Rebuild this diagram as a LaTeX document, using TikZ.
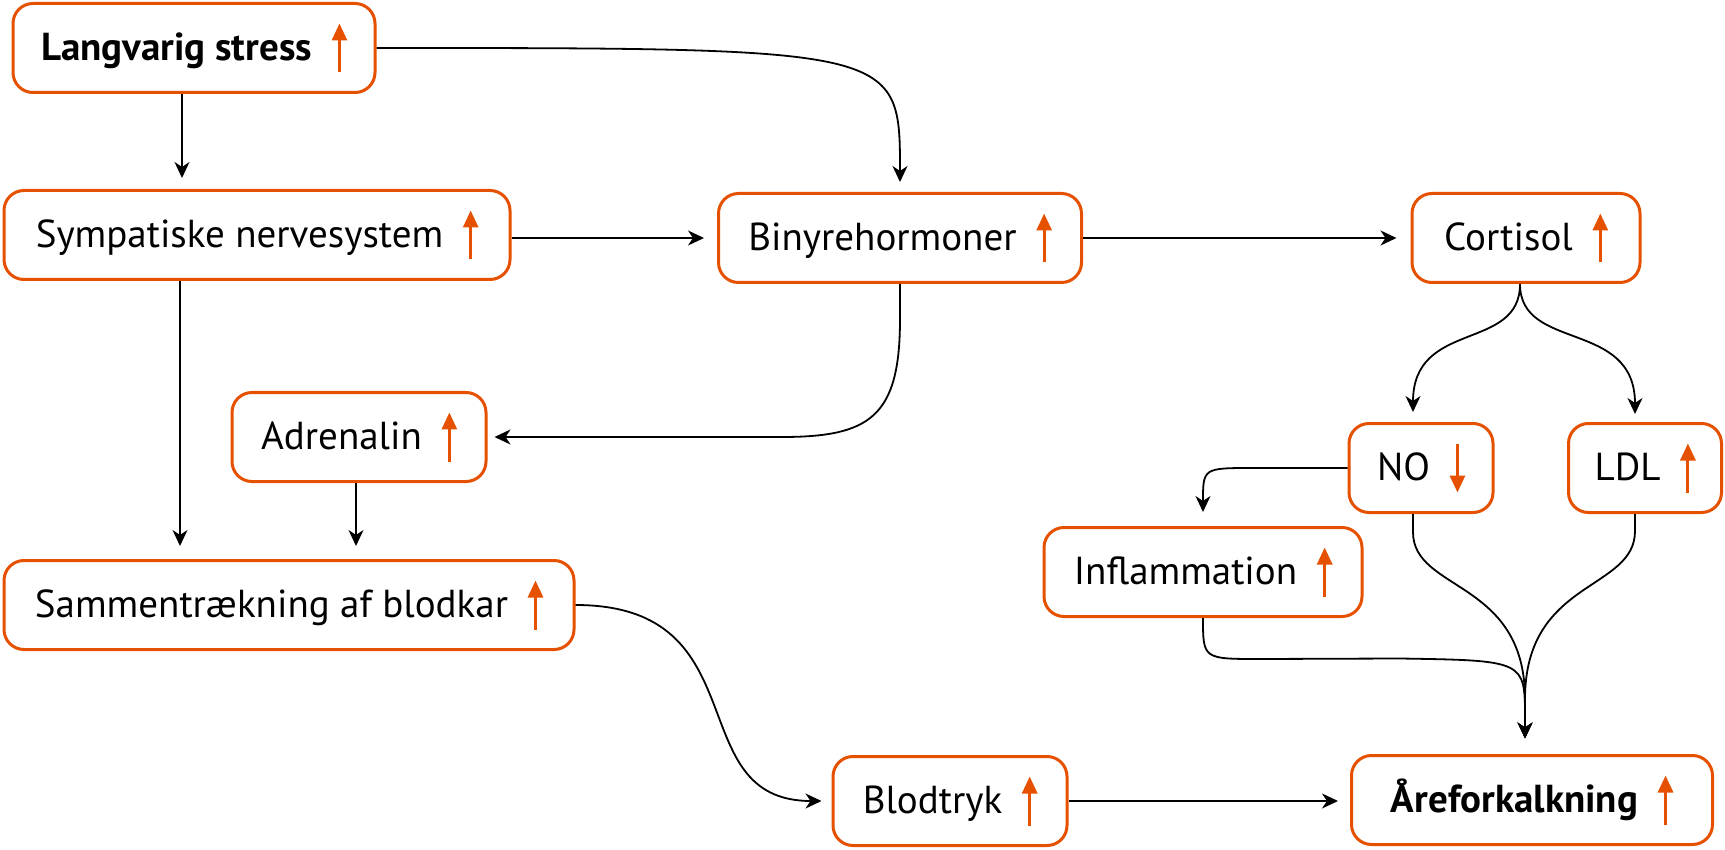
\documentclass[tikz,border=0pt]{standalone}
\usepackage{fontspec}
\setmainfont{PT Sans}
\usetikzlibrary{arrows.meta,calc}
\definecolor{orng}{RGB}{230,81,0}
\tikzset{
  box/.style={draw=orng, line width=1.5pt, rounded corners=10pt, fill=white, inner sep=0pt,
    text height=18.5pt, text depth=6pt, font=\fontsize{19.5}{24}\selectfont, minimum height=44.5pt},
  conn/.style={draw=black, line width=0.9pt, -{Stealth[length=8pt,width=7.5pt,inset=2.5pt]}},
}
\newcommand{\uparr}{\hspace{10pt}\tikz[baseline=0pt]{\draw[draw=orng,line width=1.5pt,-{Triangle[length=8.5pt,width=7.5pt,fill=orng]}] (0pt,-6pt) -- (0pt,18.5pt);}}
\newcommand{\dnarr}{\hspace{10pt}\tikz[baseline=0pt]{\draw[draw=orng,line width=1.5pt,-{Triangle[length=8.5pt,width=7.5pt,fill=orng]}] (0pt,18.5pt) -- (0pt,-6pt);}}
\begin{document}
\begin{tikzpicture}[x=0.5pt,y=-0.5pt]
\useasboundingbox[fill=white] (0,0) rectangle (1725,850);
\node[box, minimum width=181pt] (L) at (194,48) {\bfseries Langvarig stress\uparr};
\node[box, minimum width=253pt] (S) at (257,235) {Sympatiske nervesystem\uparr};
\node[box, minimum width=181.5pt] (B) at (900,238) {Binyrehormoner\uparr};
\node[box, minimum width=114pt] (C) at (1526,238) {Cortisol\uparr};
\node[box, minimum width=127pt] (A) at (359,437) {Adrenalin\uparr};
\node[box, minimum width=285pt] (M) at (289,605) {Sammentrækning af blodkar\uparr};
\node[box, minimum width=117pt] (T) at (950,801) {Blodtryk\uparr};
\node[box, minimum width=180.5pt] (AA) at (1532,800) {\bfseries Åreforkalkning\uparr};
\node[box, minimum width=159pt] (I) at (1203,572) {Inflammation\uparr};
\node[box, minimum width=72pt] (NO) at (1421,468) {NO\dnarr};
\node[box, minimum width=76.5pt] (LDL) at (1645,468) {LDL\uparr};

\draw[conn] ($(L.south)+(-12,0)$) -- ($(S.north)+(-75,-11)$);
\draw[conn] (L.east) .. controls (L.east -| B.north) .. ($(B.north)+(0,-10)$);
\draw[conn] (S.east |- B.west) -- ($(B.west)+(-13,0)$);
\draw[conn] (B.east) -- ($(C.west)+(-14,0)$);
\draw[conn] (B.south) -- ($(B.south)+(0,35)$) .. controls ($(B.south |- A.east)+(0,-20)$) and ($(B.south |- A.east)+(-30,0)$) .. ($(A.east)+(294,0)$) -- ($(A.east)+(7,0)$);
\draw[conn] ($(S.south)+(-77,0)$) -- ($(M.north)+(-109,-13)$);
\draw[conn] ($(A.south)+(-3,0)$) -- ($(A.south |- M.north)+(-3,-13)$);
\draw[conn] (M.east) .. controls ($(M.east)+(186,0)$) and ($(T.west)+(-153,0)$) .. ($(T.west)+(-10,0)$);
\draw[conn] (T.east) -- ($(T.east -| AA.west)+(-12,0)$);
\draw[conn] ($(C.south)+(-6,0)$) .. controls ($(C.south)+(-6,68)$) and ($(NO.north)+(-8,-103)$) .. ($(NO.north)+(-8,-10)$);
\draw[conn] ($(C.south)+(-6,0)$) .. controls ($(C.south)+(-6,68)$) and ($(LDL.north)+(-10,-103)$) .. ($(LDL.north)+(-10,-8)$);
\draw[conn] (NO.west) -- ($(NO.west)+(-94,0)$) .. controls (I.north |- NO.west) .. ($(I.north)+(0,-14)$);
\draw[conn] ($(NO.south)+(-8,0)$) -- ($(NO.south)+(-8,18)$) .. controls ($(NO.south)+(-8,78)$) and ($(AA.north)+(-7,-175)$) .. ($(AA.north)+(-7,-55)$) -- ($(AA.north)+(-7,-15.5)$);
\draw[conn] ($(LDL.south)+(-10,0)$) -- ($(LDL.south)+(-10,17)$) .. controls ($(LDL.south)+(-10,77)$) and ($(AA.north)+(-7,-175)$) .. ($(AA.north)+(-7,-55)$) -- ($(AA.north)+(-7,-15.5)$);
\draw[conn] (I.south) .. controls ($(I.south)+(0,41)$) .. ($(I.south)+(57,41)$) -- ($(AA.north)+(-132,-95.5)$) .. controls ($(AA.north)+(-7,-93.5)$) .. ($(AA.north)+(-7,-35.5)$) -- ($(AA.north)+(-7,-15.5)$);
\end{tikzpicture}
\end{document}
